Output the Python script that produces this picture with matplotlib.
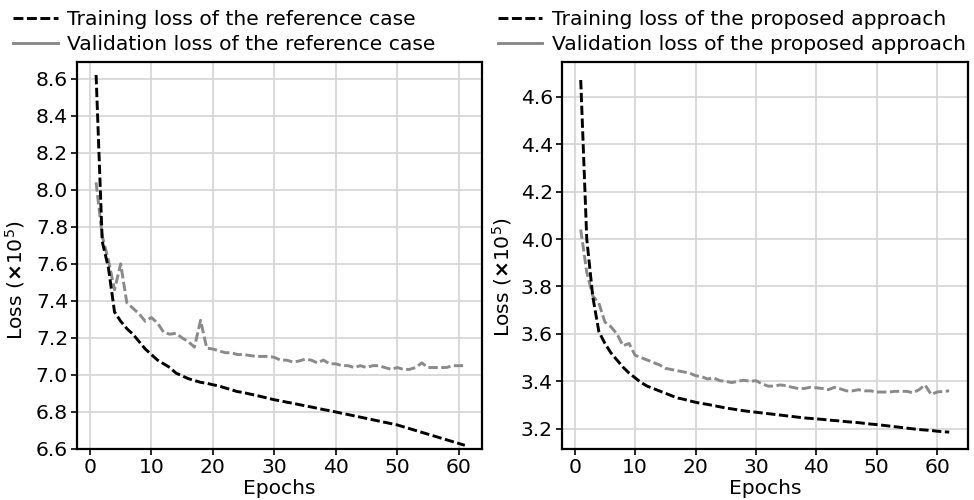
import matplotlib
matplotlib.use("Agg")
import matplotlib.pyplot as plt
from matplotlib.lines import Line2D

plt.rcParams['font.family'] = ['DejaVu Sans']
plt.rcParams['mathtext.fontset'] = 'dejavusans'

####################################################################
# data
####################################################################
ref_train = [8.62, 7.72, 7.58, 7.34, 7.29, 7.25, 7.22, 7.18, 7.14, 7.11,
             7.08, 7.06, 7.04, 7.01, 6.995, 6.98, 6.97, 6.96, 6.955, 6.947,
             6.94, 6.93, 6.92, 6.91, 6.905, 6.897, 6.89, 6.882, 6.874, 6.866,
             6.86, 6.853, 6.847, 6.84, 6.833, 6.827, 6.82, 6.813, 6.807, 6.80,
             6.793, 6.786, 6.779, 6.772, 6.765, 6.758, 6.751, 6.744, 6.737, 6.73,
             6.72, 6.71, 6.70, 6.69, 6.68, 6.67, 6.66, 6.65, 6.64, 6.63,
             6.62]
ref_val = [8.04, 7.75, 7.62, 7.46, 7.60, 7.39, 7.36, 7.33, 7.29, 7.31,
           7.28, 7.23, 7.22, 7.225, 7.20, 7.18, 7.15, 7.295, 7.145, 7.14,
           7.13, 7.12, 7.12, 7.11, 7.11, 7.105, 7.10, 7.10, 7.10, 7.095,
           7.08, 7.08, 7.07, 7.075, 7.085, 7.08, 7.065, 7.08, 7.06, 7.06,
           7.05, 7.05, 7.04, 7.05, 7.04, 7.05, 7.05, 7.04, 7.03, 7.04,
           7.03, 7.03, 7.04, 7.065, 7.04, 7.04, 7.04, 7.04, 7.05, 7.05,
           7.05]
prop_train = [4.67, 4.00, 3.756, 3.61, 3.56, 3.52, 3.49, 3.46, 3.435, 3.415,
              3.395, 3.38, 3.37, 3.36, 3.35, 3.34, 3.33, 3.325, 3.318, 3.312,
              3.307, 3.303, 3.298, 3.293, 3.288, 3.284, 3.28, 3.276, 3.273, 3.27,
              3.267, 3.264, 3.261, 3.258, 3.255, 3.252, 3.249, 3.246, 3.244, 3.242,
              3.24, 3.237, 3.235, 3.233, 3.23, 3.228, 3.226, 3.223, 3.22, 3.218,
              3.215, 3.212, 3.209, 3.206, 3.203, 3.20, 3.197, 3.195, 3.193, 3.19,
              3.188, 3.186]
prop_val = [4.04, 3.86, 3.76, 3.73, 3.65, 3.63, 3.60, 3.55, 3.56, 3.51,
            3.50, 3.49, 3.48, 3.47, 3.455, 3.45, 3.445, 3.44, 3.435, 3.424,
            3.42, 3.41, 3.415, 3.403, 3.40, 3.395, 3.40, 3.405, 3.40, 3.403,
            3.39, 3.38, 3.38, 3.385, 3.382, 3.375, 3.37, 3.37, 3.375, 3.373,
            3.37, 3.365, 3.375, 3.368, 3.36, 3.36, 3.365, 3.36, 3.36, 3.355,
            3.355, 3.355, 3.358, 3.358, 3.358, 3.352, 3.365, 3.385, 3.345, 3.355,
            3.358, 3.36]

ref_epochs = list(range(1, len(ref_train) + 1))
prop_epochs = list(range(1, len(prop_train) + 1))

ref_labels = ["Training loss of the reference case",
              "Validation loss of the reference case"]
prop_labels = ["Training loss of the proposed approach",
               "Validation loss of the proposed approach"]

GRAY = "#8a8a8a"
FS = 14.6


def style_axes(ax, ylim, xlim, yticks):
    ax.set_xlim(*xlim)
    ax.set_ylim(*ylim)
    ax.set_xticks(range(0, 70, 10))
    ax.set_yticks(yticks)
    ax.set_yticklabels(["{:.1f}".format(t) for t in yticks])
    ax.grid(True, color="#d4d4d4", linewidth=1.2)
    ax.set_axisbelow(True)
    for s in ax.spines.values():
        s.set_linewidth(1.6)
        s.set_color("black")
    ax.tick_params(direction="out", length=4.5, width=1.2, pad=2,
                   labelsize=FS, colors="black")
    ax.set_xlabel("Epochs", fontsize=FS)
    ax.set_ylabel(r"Loss ($\mathbf{\times}$10$^{5}$)", fontsize=FS)


def draw(ax, epochs, train, val, labels, ylim, xlim, yticks, lbl_x, lbl_y):
    ax.plot(epochs, val, color=GRAY, linewidth=2.1, dashes=(3.2, 1.2))
    ax.plot(epochs, train, color="black", linewidth=2.1, dashes=(3.2, 1.2))
    style_axes(ax, ylim, xlim, yticks)
    ax.yaxis.set_label_coords(lbl_x, lbl_y)
    ax.xaxis.set_label_coords(0.5, -0.077)

    handles = [Line2D([], [], color="black", linewidth=2.1, dashes=(3.4, 1.2)),
               Line2D([], [], color=GRAY, linewidth=2.1)]
    ax.legend(handles, labels, loc="lower left", bbox_to_anchor=(-0.158, 1.02),
              frameon=False, borderaxespad=0, borderpad=0, fontsize=FS,
              handlelength=2.2, handletextpad=0.45, labelspacing=0.3)


fig = plt.figure(figsize=(9.74, 5.0), dpi=100)
ax1 = fig.add_axes([0.0791, 0.102, 0.4158, 0.774])
ax2 = fig.add_axes([0.577, 0.102, 0.4168, 0.774])

draw(ax1, ref_epochs, ref_train, ref_val, ref_labels,
     (6.6, 8.69), (-2.1, 63.8), [6.6, 6.8, 7.0, 7.2, 7.4, 7.6, 7.8, 8.0, 8.2, 8.4, 8.6],
     -0.123, 0.437)
draw(ax2, prop_epochs, prop_train, prop_val, prop_labels,
     (3.115, 4.746), (-2.1, 65.1), [3.2, 3.4, 3.6, 3.8, 4.0, 4.2, 4.4, 4.6],
     -0.118, 0.443)

fig.savefig("out.png", dpi=100)
